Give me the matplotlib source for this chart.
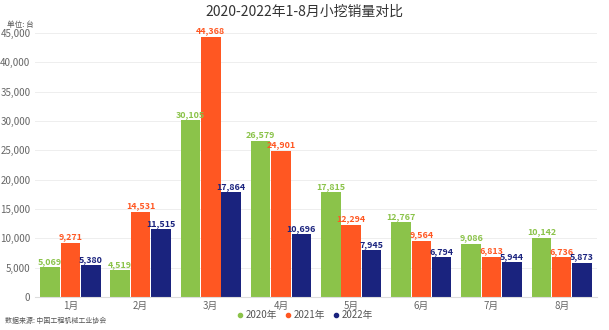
import numpy as np
import matplotlib.pyplot as plt

plt.rcParams['font.family'] = ['Noto Sans CJK SC', 'DejaVu Sans']

months = ['1月', '2月', '3月', '4月', '5月', '6月', '7月', '8月']
series_names = ['2020年', '2021年', '2022年']
sales_2020 = [5069, 4519, 30105, 26579, 17815, 12767, 9086, 10142]
sales_2021 = [9271, 14531, 44368, 24901, 12294, 9564, 6813, 6736]
sales_2022 = [5380, 11515, 17864, 10696, 7945, 6794, 5944, 5873]
colors = ['#8bc34a', '#ff5722', '#1a237e']

fig = plt.figure(figsize=(6.09, 3.30), dpi=100)
ax = fig.add_axes([0.058, 0.10, 0.922, 0.80])

x = np.arange(len(months))
w = 0.29
for i, (vals, name, c) in enumerate(zip([sales_2020, sales_2021, sales_2022], series_names, colors)):
    pos = x + (i - 1) * w
    ax.bar(pos, vals, width=w * 0.96, color=c, label=name, zorder=2)
    for px, v in zip(pos, vals):
        ax.text(px, v + 250, f'{v:,}', ha='center', va='bottom', color=c,
                fontsize=6.4, fontweight='bold', clip_on=False)

ax.set_xlim(-0.5, len(months) - 0.5)
ax.set_ylim(0, 45000)
ax.set_yticks(np.arange(0, 45001, 5000))
ax.set_yticklabels([f'{t:,}' for t in range(0, 45001, 5000)])
ax.set_xticks(x)
ax.set_xticklabels(months)
ax.tick_params(axis='both', length=0, labelsize=7, colors='#666666')
ax.tick_params(axis='x', pad=3)
ax.grid(axis='y', color='#eeeeee', linewidth=0.7, zorder=0)
for s in ['top', 'right', 'left']:
    ax.spines[s].set_visible(False)
ax.spines['bottom'].set_color('#dddddd')

fig.text(0.5, 0.965, '2020-2022年1-8月小挖销量对比', ha='center', va='center',
         fontsize=10, color='#333333')
fig.text(0.012, 0.925, '单位: 台', ha='left', va='center', fontsize=5.5, color='#555555')
fig.text(0.008, 0.028, '数据来源: 中国工程机械工业协会', ha='left', va='center',
         fontsize=5, color='#555555')

handles = [plt.Line2D([], [], marker='o', ls='', color=c, markersize=3) for c in colors]
fig.legend(handles, series_names, loc='center', bbox_to_anchor=(0.5, 0.045), ncol=3,
           frameon=False, fontsize=7, handletextpad=0.1, columnspacing=0.8,
           labelcolor='#555555', handlelength=0.8)

fig.savefig('out.png', dpi=100)
